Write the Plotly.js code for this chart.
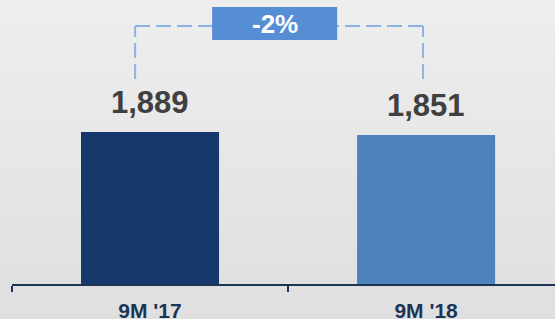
<!DOCTYPE html>
<html>
<head>
<meta charset="utf-8">
<script src="https://cdn.plot.ly/plotly-3.0.1.min.js"></script>
<style>
  html, body { margin: 0; padding: 0; }
  body { width: 555px; height: 319px; background: linear-gradient(to bottom, #eeeeee 0%, #dfdfdf 100%); overflow: hidden; }
  #chart { width: 555px; height: 319px; }
</style>
</head>
<body>
<div id="chart"></div>
<script>
const categories = ["9M '17", "9M '18"];
const values = [1889, 1851];
const valueLabels = ["1,889", "1,851"];
const barColors = ["#17386b", "#4f81bd"];
const changeLabel = "-2%";

const navy = "#1c3556";
const dashColor = "#8db3e2";
const boxColor = "#558ed5";

const trace = {
  type: "bar",
  x: categories,
  y: values,
  width: 0.5,
  marker: { color: barColors },
  hoverinfo: "none"
};

// bracket geometry (in axis units)
const xl = -0.054, xr = 0.989;
const yTop = 3206, yBot = 2548;

const shapes = [
  { type: "line", xref: "x", yref: "y", x0: xl, x1: xl, y0: yBot, y1: yTop, line: { color: dashColor, width: 2, dash: "15px,6px" } },
  { type: "line", xref: "x", yref: "y", x0: xr, x1: xr, y0: yBot, y1: yTop, line: { color: dashColor, width: 2, dash: "15px,6px" } },
  { type: "line", xref: "x", yref: "y", x0: xl, x1: xr, y0: yTop, y1: yTop, line: { color: dashColor, width: 2, dash: "15px,6px" } },
  { type: "rect", xref: "x", yref: "y", x0: 0.225, x1: 0.678, y0: 3032, y1: 3442, fillcolor: boxColor, line: { width: 0 } }
];

const annotations = categories.map((c, i) => ({
  x: i, y: values[i], xref: "x", yref: "y",
  text: valueLabels[i], showarrow: false,
  yanchor: "bottom", yshift: 10,
  font: { family: "Liberation Sans, Arial, sans-serif", size: 31, color: "#404040", weight: "bold" }
}));
annotations.push({
  x: 0.4515, y: 3237, xref: "x", yref: "y",
  text: changeLabel, showarrow: false,
  xanchor: "center", yanchor: "middle",
  font: { family: "Liberation Sans, Arial, sans-serif", size: 26, color: "#ffffff", weight: "bold" }
});

const layout = {
  width: 555, height: 319,
  margin: { l: 12, r: 0, t: 0, b: 35, pad: 0 },
  paper_bgcolor: "rgba(0,0,0,0)",
  plot_bgcolor: "rgba(0,0,0,0)",
  showlegend: false,
  xaxis: {
    type: "category",
    range: [-0.5, 1.467],
    tickson: "boundaries",
    ticks: "outside", ticklen: 6, tickwidth: 2, tickcolor: navy,
    ticklabelstandoff: 7,
    showline: true, linecolor: navy, linewidth: 2,
    showgrid: false, zeroline: false,
    tickfont: { family: "Liberation Sans, Arial, sans-serif", size: 21, color: navy, weight: "bold" },
    fixedrange: true
  },
  yaxis: {
    range: [0, 3529], visible: false, showgrid: false, zeroline: false, fixedrange: true
  },
  shapes: shapes,
  annotations: annotations
};

Plotly.newPlot("chart", [trace], layout, { displayModeBar: false, staticPlot: true });
</script>
</body>
</html>
